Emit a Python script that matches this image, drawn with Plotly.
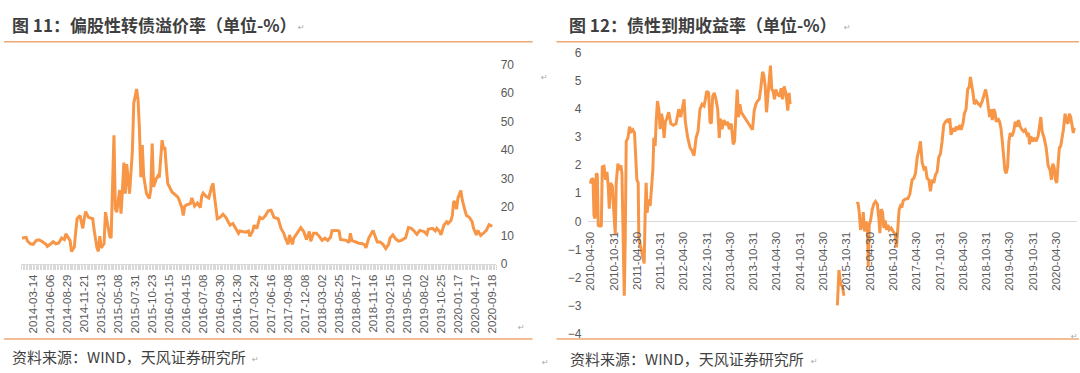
import pandas as pd
import plotly.graph_objects as go

W, H = 1080, 373


def px(x):
    return x / W


def py(y):
    return 1 - y / H


# ---------------- Left panel: 偏股性转债溢价率 (weekly, category index) ----------------
premium_week = [
    0, 3, 4, 6, 8, 10, 12, 14, 17, 18, 20, 22, 24, 26, 28, 30, 31, 32, 34, 35, 37, 38, 39, 41, 43,
    44, 45, 47, 49, 50, 51, 53, 54, 55, 56, 58, 59, 61, 62, 63, 65, 66, 67, 69, 70, 71, 72, 73, 74,
    76, 78, 79, 81, 82, 83, 84, 85, 86, 88, 90, 91, 92, 93, 95, 96, 97, 99, 100, 101, 102, 103, 106,
    108, 110, 111, 113, 114, 115, 117, 119, 120, 122, 124, 126, 127, 128, 130, 132, 134, 135, 136,
    138, 140, 142, 144, 146, 147, 149, 151, 153, 154, 156, 158, 160, 161, 163, 164, 166, 168, 170,
    172, 174, 176, 178, 180, 181, 183, 185, 186, 188, 189, 191, 192, 195, 197, 199, 201, 203, 204,
    206, 208, 210, 212, 214, 216, 218, 219, 222, 224, 225, 228, 229, 231, 232, 233, 236, 238, 240,
    242, 243, 245, 248, 249, 251, 253, 255, 257, 259, 260, 262, 264, 266, 268, 270, 271, 273, 275,
    277, 279, 281, 284, 286, 287, 290, 292, 293, 295, 296, 298, 300, 301, 303, 304, 305, 306, 307,
    308, 310, 311, 313, 314, 316, 318, 319, 321, 322, 324, 326, 328, 330, 331, 332,
]
premium = [
    9.1, 9.3, 8.0, 7.1, 6.9, 8.2, 8.5, 8.0, 6.9, 6.2, 6.9, 7.8, 7.1, 7.4, 9.1, 8.6, 10.6, 9.7, 8.2, 4.4,
    6.0, 11.4, 15.9, 17.0, 12.5, 15.9, 18.4, 16.4, 16.1, 15.9, 11.9, 5.7, 4.4, 9.8, 5.7, 7.1, 18.2, 12.5,
    9.7, 9.1, 45.2, 19.3, 18.2, 26.0, 17.7, 26.0, 35.6, 24.7, 35.1, 24.7, 39.5, 56.4, 61.5, 57.9, 47.4,
    30.5, 41.8, 30.9, 24.7, 23.0, 26.0, 42.3, 27.1, 30.0, 30.9, 30.4, 43.5, 40.7, 40.7, 33.9, 28.3, 25.3,
    24.6, 23.6, 22.5, 19.8, 17.0, 20.3, 20.9, 21.2, 23.2, 20.3, 21.4, 19.8, 23.8, 24.9, 23.8, 23.2, 27.1,
    28.3, 23.8, 15.9, 16.4, 17.5, 16.4, 14.2, 13.6, 14.2, 12.5, 10.8, 11.6, 11.4, 11.2, 11.6, 9.7, 11.6,
    13.6, 12.5, 16.4, 15.9,
    17.0, 18.7, 18.9, 16.4, 16.2, 15.9, 12.5, 10.8, 9.1, 6.9, 10.2, 6.9, 9.1, 11.4, 12.8, 11.4, 8.6,
    11.4, 8.0, 10.8, 10.8, 9.7, 8.3, 9.1, 8.3, 9.4, 11.7, 11.8, 11.6, 8.6, 8.3, 8.3, 7.5, 10.8, 8.3, 7.7,
    7.3, 7.2, 6.8, 5.7, 9.1, 11.8, 10.2, 7.7, 7.7, 6.9, 5.4, 6.9, 9.1, 10.2, 8.8, 8.0, 8.3, 8.8, 9.2,
    12.8, 12.5, 11.6, 10.4, 11.8, 11.4, 10.4, 12.2, 12.5, 11.6, 12.5, 11.4, 10.2, 13.6, 14.8, 14.2, 15.3,
    17.0, 22.1, 21.5, 19.3, 23.2, 25.8, 22.6, 18.7, 17.0, 16.4, 14.8, 12.5, 10.2, 11.8, 10.0, 10.8,
    11.8, 13.8, 13.6, 13.1,
]
premium_tick_labels = [
    "2014-03-14", "2014-06-06", "2014-08-29", "2014-11-21", "2015-02-13", "2015-05-08", "2015-07-31",
    "2015-10-23", "2016-01-15", "2016-04-15", "2016-07-08", "2016-09-30", "2016-12-30", "2017-03-24",
    "2017-06-16", "2017-09-08", "2017-12-08", "2018-03-02", "2018-05-25", "2018-08-17", "2018-11-16",
    "2019-02-15", "2019-05-10", "2019-08-02", "2019-10-25", "2020-01-17", "2020-04-17", "2020-09-18",
]
premium_tick_week = [
    8, 20, 32, 44, 56, 68, 80, 92, 104, 116, 128, 140, 152, 164,
    176, 188, 200, 212, 224, 236, 248, 260, 272, 284, 296, 308, 320, 332,
]
premium_yticks = [0, 10, 20, 30, 40, 50, 60, 70]

# ---------------- Right panel: 债性到期收益率 (weeks since 2010-04-30) ----------------
ytm_start = "2010-04-30"
ytm_week = [
    0.0, 1.1, 3.0, 4.1, 5.2, 6.7, 7.8, 8.9, 10.4, 12.3, 13.4, 15.3, 17.1, 18.6, 20.1, 21.2, 22.7, 24.6,
    26.1, 27.9, 29.0, 30.9, 32.8, 34.2, 35.4, 36.8, 38.0, 39.1, 40.2, 42.1, 43.9, 45.8, 47.6, 49.5,
    50.6, 52.1, 53.6, 54.3, 55.8, 57.3, 58.8, 60.3, 61.4, 62.5, 63.6, 65.1, 67.0, 68.5, 70.0, 71.1,
    72.6, 73.7, 75.2, 76.7, 78.2, 79.7, 81.1, 82.6, 84.1, 85.6, 87.8, 90.1, 93.1, 96.0, 99.0, 101.2,
    103.5, 105.0, 106.4, 109.1, 111.7, 113.9, 116.1, 118.4, 120.6, 122.8, 125.1, 127.3, 128.8, 130.3,
    132.5, 134.0, 135.5, 137.0, 138.8, 140.7, 142.6, 144.4, 145.5, 147.4, 149.6, 151.9, 153.7, 155.6,
    157.8, 160.0, 161.5, 163.0, 164.5, 166.0, 167.5, 169.0, 171.2, 173.4, 176.1, 178.7, 181.6, 183.5,
    185.4, 187.2, 189.1, 190.9, 192.8, 194.3, 195.8, 197.3, 198.8, 200.2, 201.7, 203.2, 204.7, 206.2,
    207.7, 209.9, 212.2, 213.6, 215.1, 217.0, 218.9, 221.1, 222.6, 223.7,
    250.0,
    276.6, 278.4, 280.3, 282.2, 284.0,
    290.0,
    298.2, 299.7, 301.1, 302.6, 304.5, 305.6, 307.1, 309.0, 310.4, 311.2, 312.3, 313.8, 315.7, 317.5,
    319.4, 321.3, 323.1, 324.2, 325.7, 327.2, 328.7, 330.2, 331.7, 333.2, 334.6, 336.9, 339.1, 341.4,
    342.8, 344.3, 345.8, 347.3, 348.8, 350.3, 352.5, 355.5, 357.7, 360.3, 362.2, 364.1, 366.0, 367.8,
    369.7, 371.5, 373.4, 375.3, 377.1, 379.0, 380.8, 382.7, 384.6, 386.4, 388.3, 390.2, 392.0, 393.9,
    395.7, 397.6, 399.5, 401.3, 402.5, 403.9, 406.2, 408.0, 409.9, 411.8, 413.6, 415.1, 417.3, 418.8,
    420.7, 422.5, 424.4, 425.5, 427.0, 428.5, 430.0, 432.2, 434.8, 436.7, 438.9, 441.2, 442.6, 444.1,
    445.6, 447.1, 448.6, 450.1, 451.6, 453.1, 454.5, 456.4, 458.3, 459.8, 461.3, 462.7, 464.2, 465.7,
    467.2, 468.7, 470.2, 472.1, 474.0, 475.8, 477.7, 479.5, 481.4, 483.3, 485.1, 487.0, 488.9, 490.7,
    491.8, 493.2, 495.1, 497.0, 499.2, 501.4, 502.9, 504.4, 505.9, 508.1, 510.4, 512.6, 514.8, 516.3,
    517.8, 519.3, 520.8, 522.3, 523.8, 525.2, 526.7, 528.2, 529.7, 531.6, 533.4, 534.9, 536.4, 537.9,
    539.4, 540.8, 541.9,
]
ytm = [
    1.34, 1.48, 1.53, 0.22, 0.10, 1.71, 1.65, -0.18, -0.14, -0.18, 1.94, 1.96, 1.48, 1.76, 1.25, 0.45,
    1.37, 1.25, 0.45, -0.47, 1.37, 2.05, 1.82, 2.00, 1.71, -0.14, -2.65, -0.60, 2.85, 2.97, 3.37, 3.20,
    3.26, 3.14, 2.51, 1.48, 1.37, -0.60, -0.82, -1.04, -1.27, -1.50, 0.30, 1.37, 0.30, 0.78, 0.55, 1.14,
    1.82, 2.97, 2.68, 3.54, 4.28, 3.99, 3.28, 3.83, 3.60, 2.97, 3.54, 3.66, 3.88, 3.48, 3.42, 3.48, 3.99,
    3.71, 4.05, 4.34, 3.54, 2.97, 2.62, 2.51, 2.34, 2.97, 3.20, 3.99, 4.17, 4.11, 4.34, 4.63, 4.57, 3.54,
    3.48, 4.45, 4.57, 4.34, 3.99, 2.97, 3.66, 3.28, 3.60, 3.42, 3.54, 3.28, 3.48, 2.74, 2.85, 3.99, 4.69,
    3.71, 4.17, 3.88, 3.77, 3.66, 3.54, 3.42, 3.26, 3.94, 4.17, 4.28, 4.34, 4.74, 5.32, 5.20, 4.80, 3.88,
    4.45, 4.86, 5.54, 4.69, 4.63, 4.34, 4.69, 4.51, 4.45, 4.74, 4.34, 4.80, 4.57, 3.94, 4.57, 4.17,
    None,
    -2.99, -1.73, -2.25, -2.30, -2.65,
    None,
    0.62, 0.67, 0.33, -0.30, -0.13, 0.33, -0.36, 0.00, -0.36, -1.62, -0.13, 0.03, 0.43, 0.62, 0.71, 0.62,
    0.10, -0.42, 0.43, 0.33, -0.24, 0.03, -0.30, -0.13, -0.30, -0.24, -0.36, -0.47, -0.93, -0.36, 0.43,
    0.55, 0.49, 0.73, 0.79, 0.81, 0.96, 1.48, 1.53, 1.71, 2.28, 2.51, 2.85, 2.10, 1.88, 1.94, 1.53, 1.48,
    1.07, 1.48, 1.37, 1.65, 1.76, 2.28, 2.40, 2.85, 3.43, 3.54, 3.60, 3.54, 3.66, 3.08, 3.31, 3.20, 3.37,
    3.26, 3.43, 3.26, 3.48, 3.83, 3.99, 4.69, 4.80, 5.14, 4.91, 4.57, 4.17, 4.28, 4.17, 4.11, 4.28, 4.57,
    4.69, 4.45, 4.11, 3.71, 3.99, 3.60, 3.99, 3.88, 3.54, 3.66, 3.54, 3.31, 2.85, 2.28, 1.82, 1.71, 1.94,
    2.85, 3.14, 3.03, 3.20, 3.54, 3.37, 3.60, 3.37, 3.26, 3.20, 3.26, 3.08, 3.14, 2.74, 3.03, 2.85, 2.97,
    2.85, 3.03, 3.37, 3.71, 3.20, 2.97, 2.62, 1.99, 1.82, 1.48, 2.05, 1.94, 1.48, 1.37, 2.05, 2.62, 2.68,
    2.97, 3.26, 3.83, 3.54, 3.48, 3.83, 3.71, 3.31, 3.14, 3.33,
]
ytm_tick_labels = [
    "2010-04-30", "2010-10-31", "2011-04-30", "2011-10-31", "2012-04-30", "2012-10-31", "2013-04-30",
    "2013-10-31", "2014-04-30", "2014-10-31", "2015-04-30", "2015-10-31", "2016-04-30", "2016-10-31",
    "2017-04-30", "2017-10-31", "2018-04-30", "2018-10-31", "2019-04-30", "2019-10-31", "2020-04-30",
]
ytm_yticks = [-4, -3, -2, -1, 0, 1, 2, 3, 4, 5, 6]

start = pd.Timestamp(ytm_start)
ytm_dates = [start + pd.Timedelta(days=7 * w) for w in ytm_week]
ytm_tick_dates = [pd.Timestamp(s) for s in ytm_tick_labels]

ORANGE = "#F79646"
TICK = "#595959"
TXT = "#3F3F3F"
RULE = "#EFA873"
NUMFONT = "Liberation Sans"
CJK = "Noto Sans CJK SC"

fig = go.Figure()
fig.add_trace(go.Scatter(
    x=premium_week, y=premium, mode="lines",
    line=dict(color=ORANGE, width=3), xaxis="x", yaxis="y",
    hoverinfo="skip",
))
fig.add_trace(go.Scatter(
    x=ytm_dates, y=ytm, mode="lines", connectgaps=False,
    line=dict(color=ORANGE, width=3), xaxis="x2", yaxis="y2",
    hoverinfo="skip",
))

fig.update_layout(
    width=W, height=H, autosize=False,
    margin=dict(l=0, r=0, t=0, b=0),
    paper_bgcolor="white", plot_bgcolor="rgba(0,0,0,0)",
    showlegend=False,
    xaxis=dict(
        domain=[px(17.3), px(494.5)], range=[-0.5, 335], anchor="y",
        tickmode="array", tickvals=premium_tick_week, ticktext=premium_tick_labels,
        tickangle=-90, tickfont=dict(family=NUMFONT, size=11.5, color=TICK),
        ticks="outside", ticklen=5, tickcolor="#D9D9D9", tickwidth=1,
        minor=dict(ticks="outside", dtick=1, tick0=0, ticklen=5, tickcolor="#D9D9D9", tickwidth=1),
        showline=True, linecolor="#D9D9D9", linewidth=1,
        showgrid=False, zeroline=False,
    ),
    yaxis=dict(
        domain=[py(267), py(60)], range=[0, 70], anchor="free", position=px(498), side="right",
        tickmode="array", tickvals=premium_yticks,
        tickfont=dict(family=NUMFONT, size=12, color=TICK),
        ticks="", showline=False, showgrid=False, zeroline=False,
    ),
    xaxis2=dict(
        type="date", domain=[px(587), px(1078.3)], range=["2010-04-14", "2020-10-11"],
        anchor="free", position=py(222.7),
        tickmode="array", tickvals=ytm_tick_dates, ticktext=ytm_tick_labels,
        tickangle=-90, tickfont=dict(family=NUMFONT, size=11.5, color=TICK),
        ticks="outside", ticklen=5, tickcolor="rgba(0,0,0,0)",
        showline=False, showgrid=False, zeroline=False,
    ),
    yaxis2=dict(
        domain=[py(339.5), py(47.5)], range=[-4, 6], anchor="free", position=px(580),
        tickmode="array", tickvals=ytm_yticks,
        tickfont=dict(family=NUMFONT, size=12, color=TICK),
        ticks="", showline=False, showgrid=False,
        zeroline=True, zerolinecolor="#D9D9D9", zerolinewidth=1,
    ),
)

# Document-style rules (title / source separators)
for x0, x1, y in [(0, 531, 36), (555, 1080, 36), (0, 531, 345), (555, 1080, 345)]:
    fig.add_shape(type="line", xref="paper", yref="paper",
                  x0=px(x0), x1=px(x1), y0=py(y), y1=py(y),
                  line=dict(color=RULE, width=1.5))

annots = [
    dict(text="<b>图 11：偏股性转债溢价率（单位-%）</b>", x=px(6), y=py(18), size=17, color=TXT),
    dict(text="<b>图 12：债性到期收益率（单位-%）</b>", x=px(566), y=py(18), size=17, color=TXT),
    dict(text="资料来源：WIND，天风证券研究所", x=px(6), y=py(363), size=15, color=TXT),
    dict(text="资料来源：WIND，天风证券研究所", x=px(567), y=py(365), size=15, color=TXT),
]
for a in annots:
    fig.add_annotation(text=a["text"], x=a["x"], y=a["y"], xref="paper", yref="paper",
                       xanchor="left", yanchor="middle", showarrow=False,
                       font=dict(family=CJK, size=a["size"], color=a["color"]))

# Paragraph marks from the source document
for mx, my in [(299, 21), (847, 21), (543, 73), (520, 333), (253, 366), (814, 368), (544, 369), (1075, 342)]:
    fig.add_annotation(text="↵", x=px(mx), y=py(my), xref="paper", yref="paper",
                       xanchor="center", yanchor="middle", showarrow=False,
                       font=dict(family="DejaVu Sans", size=8, color="#A6A6A6"))

page_css = (
    "var s=document.createElement('style');"
    "s.textContent='html,body{margin:0!important;padding:0!important;overflow:hidden!important;"
    "width:1080px;height:373px;}';"
    "document.head.appendChild(s);"
)

fig.write_html(
    "out.html",
    config={"responsive": False, "displayModeBar": False},
    post_script=page_css,
)
